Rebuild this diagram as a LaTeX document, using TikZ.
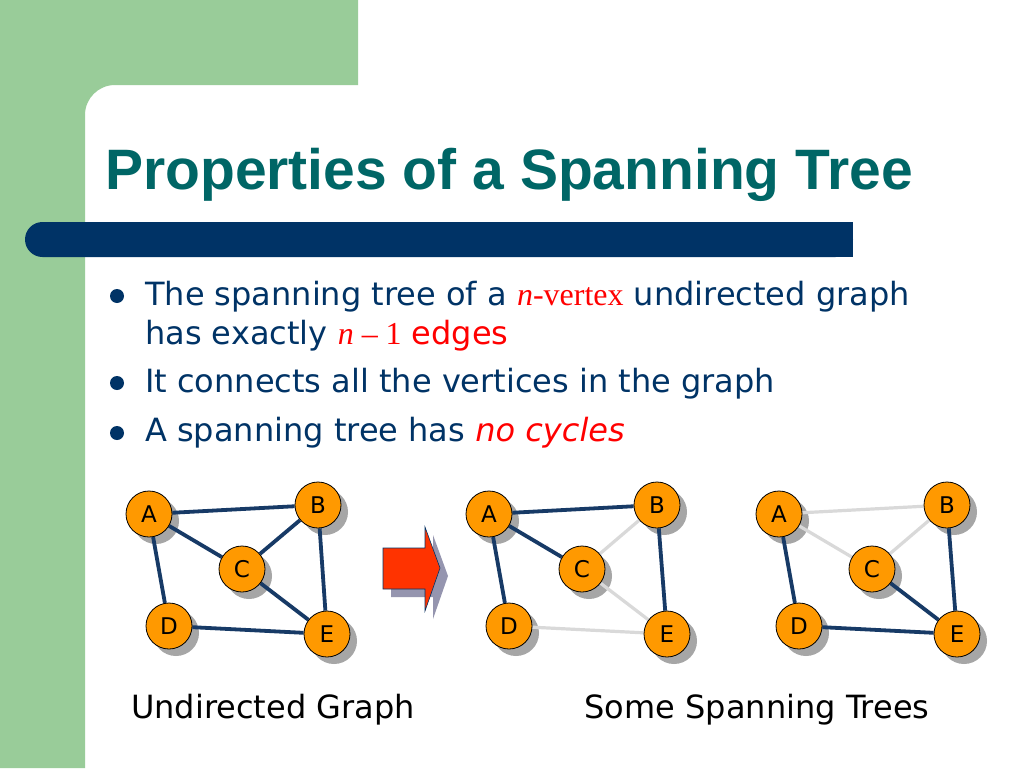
\documentclass[tikz,border=0pt]{standalone}
\usepackage{fontspec}
\setmainfont{DejaVu Sans}
\newfontfamily\titlefont{Liberation Sans}
\newfontfamily\timesfont{Liberation Serif}
\definecolor{greenbg}{HTML}{99CC99}
\definecolor{barblue}{HTML}{003366}
\definecolor{titleteal}{HTML}{006666}
\definecolor{vorange}{HTML}{FF9900}
\definecolor{txtred}{HTML}{FF0000}
\definecolor{arrred}{HTML}{FF3300}
\definecolor{edgedark}{HTML}{173A66}
\definecolor{edgelight}{HTML}{D9D9D9}
\definecolor{shadowgray}{HTML}{A6A6A6}
\pgfdeclarelayer{bglayer}
\pgfdeclarelayer{shadowlayer}
\pgfdeclarelayer{edgelayer}
\pgfsetlayers{bglayer,shadowlayer,edgelayer,main}
\tikzset{
  vertex/.style={circle, minimum size=46pt, inner sep=0pt, fill=vorange, draw=black, line width=0.8pt, font=\fontsize{23}{23}\selectfont},
  dedge/.style={draw=edgedark, line width=3.8pt},
  ledge/.style={draw=edgelight, line width=3.2pt},
  bullettext/.style={anchor=base west, inner sep=0pt, text=barblue, font=\fontsize{32}{38}\selectfont},
  bulletdot/.style={circle, fill=barblue, minimum size=14pt, inner sep=0pt},
  caption/.style={anchor=base, inner sep=0pt, text=black, font=\fontsize{32}{38}\selectfont}
}
\newcommand\mkvtx[4]{%
  \node[vertex] (#1) at (#2,#3) {#4};
  \begin{pgfonlayer}{shadowlayer}
    \fill[shadowgray] ([shift={(7,7)}]#1.center) circle (23);
  \end{pgfonlayer}}
\begin{document}
\begin{tikzpicture}[x=1pt,y=-1pt]
\useasboundingbox (0,0) rectangle (1024,768);
\begin{pgfonlayer}{bglayer}
\fill[white] (0,0) rectangle (1024,768);
% green background
\fill[greenbg] (0,0) -- (358,0) -- (358,85) -- (115,85) .. controls (98.4,85) and (85,98.4) .. (85,115) -- (85,768) -- (0,768) -- cycle;
\end{pgfonlayer}
% blue bar
\fill[barblue, rounded corners=17.5pt] (25,222) rectangle (853,257);
\fill[barblue] (820,222) rectangle (853,257);
% title
\node[anchor=base west, inner sep=0pt, text=titleteal, font=\titlefont\bfseries\fontsize{57}{60}\selectfont] (title) at (105,189) {Properties of a Spanning Tree};
% bullets
\node[bulletdot] (b1) at (117,296) {};
\node[bulletdot] (b2) at (117,383) {};
\node[bulletdot] (b3) at (117,433) {};
\node[bullettext] (t1) at (145,305) {The spanning tree of a {\timesfont\color{txtred}\itshape n\upshape-vertex} undirected graph};
\node[bullettext] (t1b) at (145,344) {has exactly {\timesfont\color{txtred}\itshape n\upshape\ \textendash\ 1} \textcolor{txtred}{edges}};
\node[bullettext] (t2) at (145,392) {It connects all the vertices in the graph};
\node[bullettext] (t3) at (145,441) {A spanning tree has \textcolor{txtred}{\itshape no cycles}};
% graph 1
\mkvtx{A1}{149}{514}{A}
\mkvtx{B1}{318}{505}{B}
\mkvtx{C1}{242}{569}{C}
\mkvtx{D1}{169}{626}{D}
\mkvtx{E1}{327}{634}{E}
% graph 2
\mkvtx{A2}{489}{514}{A}
\mkvtx{B2}{657}{505}{B}
\mkvtx{C2}{582}{569}{C}
\mkvtx{D2}{509}{626}{D}
\mkvtx{E2}{667}{634}{E}
% graph 3
\mkvtx{A3}{779}{514}{A}
\mkvtx{B3}{947}{505}{B}
\mkvtx{C3}{872}{569}{C}
\mkvtx{D3}{799}{626}{D}
\mkvtx{E3}{957}{634}{E}
\begin{pgfonlayer}{edgelayer}
\draw[dedge] (A1) -- (B1);
\draw[dedge] (A1) -- (C1);
\draw[dedge] (A1) -- (D1);
\draw[dedge] (B1) -- (C1);
\draw[dedge] (B1) -- (E1);
\draw[dedge] (C1) -- (E1);
\draw[dedge] (D1) -- (E1);
\draw[dedge] (A2) -- (B2);
\draw[dedge] (A2) -- (C2);
\draw[dedge] (A2) -- (D2);
\draw[dedge] (B2) -- (E2);
\draw[ledge] (B2) -- (C2);
\draw[ledge] (C2) -- (E2);
\draw[ledge] (D2) -- (E2);
\draw[ledge] (A3) -- (B3);
\draw[ledge] (A3) -- (C3);
\draw[ledge] (B3) -- (C3);
\draw[dedge] (A3) -- (D3);
\draw[dedge] (B3) -- (E3);
\draw[dedge] (C3) -- (E3);
\draw[dedge] (D3) -- (E3);
\end{pgfonlayer}
% block arrow
\fill[shadowgray!90!blue] (391,556) -- (433,556) -- (433,535) -- (448,576) -- (433,619) -- (433,597) -- (391,597) -- cycle;
\filldraw[fill=arrred, draw=barblue, line width=0.6pt] (383,548) -- (425,548) -- (425,527) -- (440,568) -- (425,611) -- (425,589) -- (383,589) -- cycle;
% captions
\node[caption] (cap1) at (273,718) {Undirected Graph};
\node[caption] (cap2) at (757,718) {Some Spanning Trees};
\end{tikzpicture}
\end{document}
